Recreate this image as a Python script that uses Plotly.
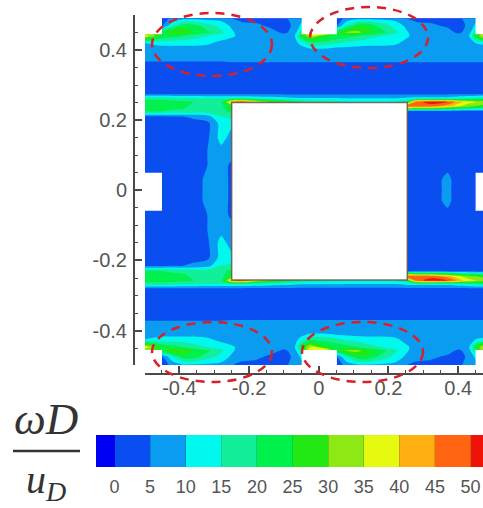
import plotly.graph_objects as go

W, H = 483, 508

x_pos = [-0.5,-0.475,
         -0.45,-0.42,-0.39,-0.36,-0.32,-0.28,-0.25,-0.22,-0.18,-0.14,-0.10,-0.07,-0.05,
         -0.025,0.025,
         0.05,0.08,0.11,0.14,0.18,0.22,0.25,0.28,0.32,0.37,0.40,0.43,0.45,
         0.475,0.5]
y_upper = [0.49,0.47,0.45,0.44,0.42,0.40,0.375,0.355,0.30,0.275,0.262,0.252,0.24,0.225,0.21,0.19,0.15,0.11,0.07,0.03,0.0]
y_lower = [-0.03,-0.07,-0.11,-0.15,-0.19,-0.215,-0.23,-0.245,-0.257,-0.267,-0.28,-0.30,-0.36,-0.38,-0.405,-0.425,-0.447,-0.457,-0.475,-0.5]

vorticity_upper = [
 [3,3, 3,6,8,8,8,8,5,3,3,3,4,7,8, 8,8, 3,6,8,8,8,8,5,3,3,3,4,7,8, 8,8],
 [3,3, 4,14,22,22,17,13,9,7,6,4,3,6,11, 9,9, 4,15,23,24,18,13,9,7,6,4,3,6,11, 9,9],
 [30,28, 24,30,30,25,21,16,11,7,7,7,4,7,18, 40,40, 24,31,32,27,22,16,11,7,7,7,4,7,18, 35,35],
 [38,32, 24,22,20,17,15,13,11,8,7,7,7,9,24, 35,25, 24,22,20,17,15,13,11,8,7,7,7,9,24, 38,38],
 [10,11, 12,12,12,12,11,8.5,7,7,7,7,7,8,12, 18,18, 16,14,13,12,12,11,8.5,7,7,7,7,8,10, 11,10],
 [7,7, 7,7,7,7,7,7,7,7,7,7,7,7,7, 8,8, 7,7,7,7,7,7,7,7,7,7,7,7,7, 7,7],
 [6,6, 6,6,6,6,6,6,6,6,6,6,6,6,6, 6,6, 6,6,6,6,6,6,6,6,6,6,6,6,6, 6,6],
 [3.5,3.5, 3.5,3.5,3.5,3.5,3.5,3.5,4,4,4,4,4,4,4, 4,4, 4,4,4,4,4,4,4,4,4,4,4,4,4, 4,4],
 [2.5,2.5, 2.5,2.5,2.5,2.5,2.5,2.5,2.5,2.5,2.5,2.5,2.5,2.5,2.5, 2.5,2.5, 2.5,2.5,2.5,2.5,2.5,2.5,2.5,2.5,2.5,2.5,2.5,2.5,2.5, 2.5,2.5],
 [4,4, 4,4,4,4,4,4,4,4,4,4,4,4,4, 4,4, 4,4,4,4,4,4,4,4,4,4,4,4,4, 4,4],
 [18,18, 18,17,16,16,15,15,15,15,14,13,12,11,10.5, 10.5,10.5, 10.5,10,10,10,10,10,11,12,12,12,14,16,17, 18,18],
 [22,22, 22,22,21,20,18,18,44,50,38,30,25,22,20, 18,17, 16,15,15,15,15,15,20,48,52,50,43,37,35, 34,33],
 [23,23, 23,22,21,19,18,19,23,15,15,15,15,15,15, 15,15, 15,15,15,15,15,15,48,48,48,42,36,32,30, 28,28],
 [20,20, 20,19,19,18,18,19,21,15,15,15,15,15,15, 15,15, 15,15,15,15,15,15,3,3,3,3,3,3,3, 3,3],
 [4,4, 4,5,5,6,8,15,16,8,8,8,8,8,8, 8,8, 8,8,8,8,8,8,3,3,3,3,3,3,3, 3,3],
 [3,3, 3,3,3,3,3.5,12,11,7,7,7,7,7,7, 7,7, 7,7,7,7,7,7,3,3,3,3,3,3,3, 3,3],
 [3,3, 3,3,3,3,4,12,8,7,7,7,7,7,7, 7,7, 7,7,7,7,7,7,3,3,3,3,3,3,3, 3,3],
 [3,3, 3,3,3,3,5,8,7,7,7,7,7,7,7, 7,7, 7,7,7,7,7,7,3,3,3,3,3,3,3, 3,3],
 [3,3, 3,3,3,3,5,7,4,4,4,4,4,4,4, 4,4, 4,4,4,4,4,4,3,3,3,4,3,3,3, 3,3],
 [3,3, 3,3,3,3,6,7,4,4,4,4,4,4,4, 4,4, 4,4,4,4,4,4,3,3,3,6,3,3,3, 3,3],
 [3,3, 3,3,3,3,6,7,4,4,4,4,4,4,4, 4,4, 4,4,4,4,4,4,3,3,3,6,3,3,3, 3,3],
]
vorticity_lower = vorticity_upper[-2::-1]

level_colors = ["#0000f5","#0a4ef2","#0a9cf0","#00f8ee","#12ee9a","#00f04c",
                "#22e814","#8ee814","#e6fa10","#ffb010","#ff6410","#ee1208"]
bar_labels = [0,5,10,15,20,25,30,35,40,45,50]
bar_edges = [-2.6,0,5,10,15,20,25,30,35,40,45,50,55]
bar_levels = [0,1,2,3,4,5,6,7,8,9,10,11]

major_ticks = [-0.4,-0.2,0,0.2,0.4]
major_labels = ["-0.4","-0.2","0","0.2","0.4"]

# white solid parts: x0, x1, y0, y1
cylinder = (-0.25, 0.254, -0.2556, 0.25)
notches = [
    (-0.52,-0.45, 0.445, 0.52), (-0.049,0.052, 0.445, 0.52), (0.45,0.52, 0.445, 0.52),
    (-0.52,-0.45,-0.52,-0.455), (-0.049,0.052,-0.52,-0.455), (0.45,0.52,-0.52,-0.455),
    (-0.52,-0.45,-0.058,0.05), (0.45,0.52,-0.058,0.05),
]
# dashed red ellipses in page pixels: left, right, top, bottom
ellipses = [(152,272,13,76),(310,428,7,68),(152,272,322,382),(302,423,322,382)]

def px(v): return v / W
def py(v): return 1 - v / H

n = len(level_colors)
contour_scale = [[i/(n-1), c] for i, c in enumerate(level_colors)]
bar_scale = []
for i, c in enumerate(level_colors):
    bar_scale += [[i/n, c], [(i+1)/n, c]]

fig = go.Figure()
fig.add_trace(go.Contour(
    x=x_pos, y=y_upper + y_lower, z=vorticity_upper + vorticity_lower,
    autocontour=False,
    contours=dict(start=0, end=50, size=5, coloring="fill", showlines=False),
    line=dict(width=0, smoothing=0.8),
    colorscale=contour_scale, showscale=False, hoverinfo="skip",
    xaxis="x", yaxis="y",
))
fig.add_trace(go.Heatmap(
    x=bar_edges, y=[0,1], z=[bar_levels],
    zmin=0, zmax=n, colorscale=bar_scale, showscale=False, hoverinfo="skip",
    xaxis="x2", yaxis="y2",
))

shapes = []
for x0,x1,y0,y1 in notches:
    shapes.append(dict(type="rect", xref="x", yref="y", x0=x0, x1=x1, y0=y0, y1=y1,
                       fillcolor="white", line=dict(width=0), layer="above"))
x0,x1,y0,y1 = cylinder
shapes.append(dict(type="rect", xref="x", yref="y", x0=x0, x1=x1, y0=y0, y1=y1,
                   fillcolor="white", line=dict(width=1.5, color="rgba(105,85,70,0.85)"), layer="above"))
for l,r,t,b in ellipses:
    shapes.append(dict(type="circle", xref="paper", yref="paper", x0=px(l), x1=px(r), y0=py(b), y1=py(t),
                       line=dict(color="#d8202c", width=2.5, dash="9px,7px"), layer="above"))
shapes.append(dict(type="line", xref="paper", yref="paper", x0=px(13), x1=px(80), y0=py(451), y1=py(451),
                   line=dict(color="#333333", width=2.5)))

axis_color = "#4a4a4a"
tick_font = dict(family="Liberation Sans", size=20, color="#555555")
fig.update_layout(
    width=W, height=H, margin=dict(l=0, r=0, t=0, b=0),
    paper_bgcolor="white", plot_bgcolor="white", showlegend=False,
    shapes=shapes,
    xaxis=dict(domain=[px(145), 1], range=[-0.4987, 0.4712], anchor="free", position=py(374),
               showgrid=False, zeroline=False, showline=True, linecolor=axis_color, linewidth=2,
               tickmode="array", tickvals=major_ticks, ticktext=major_labels,
               ticks="inside", ticklen=7, tickwidth=1.5, tickcolor=axis_color,
               minor=dict(tickmode="linear", tick0=0, dtick=0.05, ticks="inside", ticklen=3, tickwidth=1, tickcolor=axis_color),
               tickfont=tick_font, ticklabelstandoff=-4),
    yaxis=dict(domain=[py(365), py(15)], range=[-0.4979, 0.4996], anchor="free", position=px(134),
               showgrid=False, zeroline=False, showline=True, linecolor=axis_color, linewidth=2,
               tickmode="array", tickvals=major_ticks, ticktext=major_labels,
               ticks="inside", ticklen=7, tickwidth=1.5, tickcolor=axis_color,
               minor=dict(tickmode="linear", tick0=0, dtick=0.05, ticks="inside", ticklen=3, tickwidth=1, tickcolor=axis_color),
               tickfont=tick_font, ticklabelstandoff=2),
    xaxis2=dict(domain=[px(96), 1], range=[-2.6, 51.75], anchor="y2",
                showgrid=False, zeroline=False, showline=False,
                tickmode="array", tickvals=bar_labels, ticktext=[str(v) for v in bar_labels],
                ticks="inside", ticklen=32, tickwidth=1, tickcolor="rgba(0,60,60,0.18)",
                tickfont=dict(family="Liberation Sans", size=18, color="#555555"), ticklabelstandoff=7),
    yaxis2=dict(domain=[py(467), py(435)], range=[0, 1], anchor="x2", visible=False),
    annotations=[
        dict(text="<i>ωD</i>", xref="paper", yref="paper", x=px(46), y=py(419), xanchor="center", yanchor="middle",
             showarrow=False, font=dict(family="Liberation Serif", size=45, color="#333333")),
        dict(text="<i>u</i><sub><i>D</i></sub>", xref="paper", yref="paper", x=px(46), y=py(482), xanchor="center", yanchor="middle",
             showarrow=False, font=dict(family="Liberation Serif", size=40, color="#333333")),
    ],
)
fig.write_html("out.html", config={"displayModeBar": False},
               post_script="document.documentElement.style.margin='0';document.body.style.margin='0';document.body.style.overflow='hidden';")
